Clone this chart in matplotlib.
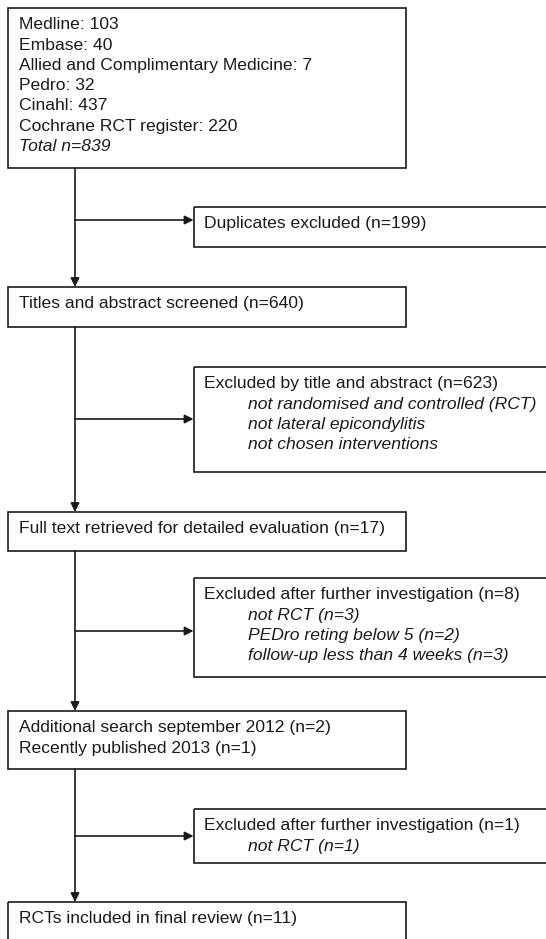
import matplotlib
matplotlib.use("Agg")
import matplotlib.pyplot as plt
from matplotlib.patches import Rectangle

plt.rcParams['font.family'] = ['Liberation Sans', 'DejaVu Sans']

# Main flow boxes: (lines, italic flags)
main_texts = [
    ["Medline: 103", "Embase: 40", "Allied and Complimentary Medicine: 7", "Pedro: 32",
     "Cinahl: 437", "Cochrane RCT register: 220", "Total n=839"],
    ["Titles and abstract screened (n=640)"],
    ["Full text retrieved for detailed evaluation (n=17)"],
    ["Additional search september 2012 (n=2)", "Recently published 2013 (n=1)"],
    ["RCTs included in final review (n=11)"],
]
main_italic = [
    [False] * 6 + [True],
    [False],
    [False],
    [False, False],
    [False],
]
side_titles = [
    "Duplicates excluded (n=199)",
    "Excluded by title and abstract (n=623)",
    "Excluded after further investigation (n=8)",
    "Excluded after further investigation (n=1)",
]
side_reasons = [
    [],
    ["not randomised and controlled (RCT)", "not lateral epicondylitis", "not chosen interventions"],
    ["not RCT (n=3)", "PEDro reting below 5 (n=2)", "follow-up less than 4 weeks (n=3)"],
    ["not RCT (n=1)"],
]

# Layout (pixel coordinates)
main_boxes = [(8, 8, 406, 168), (8, 287, 406, 327), (8, 512, 406, 551),
              (8, 711, 406, 769), (8, 902, 406, 960)]
side_boxes = [(193.5, 207, 560, 247), (193.5, 367, 560, 472),
              (193.5, 578, 560, 677), (193.5, 809, 560, 863)]
arrow_y = [220, 419, 631, 836]
spine_x = 75
line_h = 20.3
fs = 12.6
col = "#1a1a1a"
lw = 1.2

fig = plt.figure(figsize=(5.46, 9.39), dpi=100)
ax = fig.add_axes([0, 0, 1, 1])
ax.set_xlim(0, 546)
ax.set_ylim(939, 0)
ax.axis('off')

def draw_box(b):
    x0, y0, x1, y1 = b
    ax.add_patch(Rectangle((x0, y0), x1 - x0, y1 - y0, fill=False, ec=col, lw=lw, clip_on=True))

for b, lines, ital in zip(main_boxes, main_texts, main_italic):
    draw_box(b)
    for i, (t, it) in enumerate(zip(lines, ital)):
        ax.text(19, b[1] + 16.8 + i * line_h, t, fontsize=fs, color=col,
                style='italic' if it else 'normal', va='center', ha='left')

for b, title, reasons in zip(side_boxes, side_titles, side_reasons):
    draw_box(b)
    ty = b[1] + 16.8
    ax.text(204, ty, title, fontsize=fs, color=col, va='center', ha='left')
    for i, r in enumerate(reasons):
        ax.text(248, ty + (i + 1) * line_h, r, fontsize=fs, color=col,
                style='italic', va='center', ha='left')

# vertical connectors with arrows
for i in range(len(main_boxes) - 1):
    y_start = main_boxes[i][3]
    y_end = main_boxes[i + 1][1]
    ax.annotate("", xy=(spine_x, y_end), xytext=(spine_x, y_start),
                arrowprops=dict(arrowstyle='-|>', color=col, lw=lw,
                                mutation_scale=13, shrinkA=0, shrinkB=0))
# horizontal arrows
for ay, sb in zip(arrow_y, side_boxes):
    ax.annotate("", xy=(sb[0], ay), xytext=(spine_x, ay),
                arrowprops=dict(arrowstyle='-|>', color=col, lw=lw,
                                mutation_scale=13, shrinkA=0, shrinkB=0))

fig.savefig("out.png", dpi=100, facecolor='white')
